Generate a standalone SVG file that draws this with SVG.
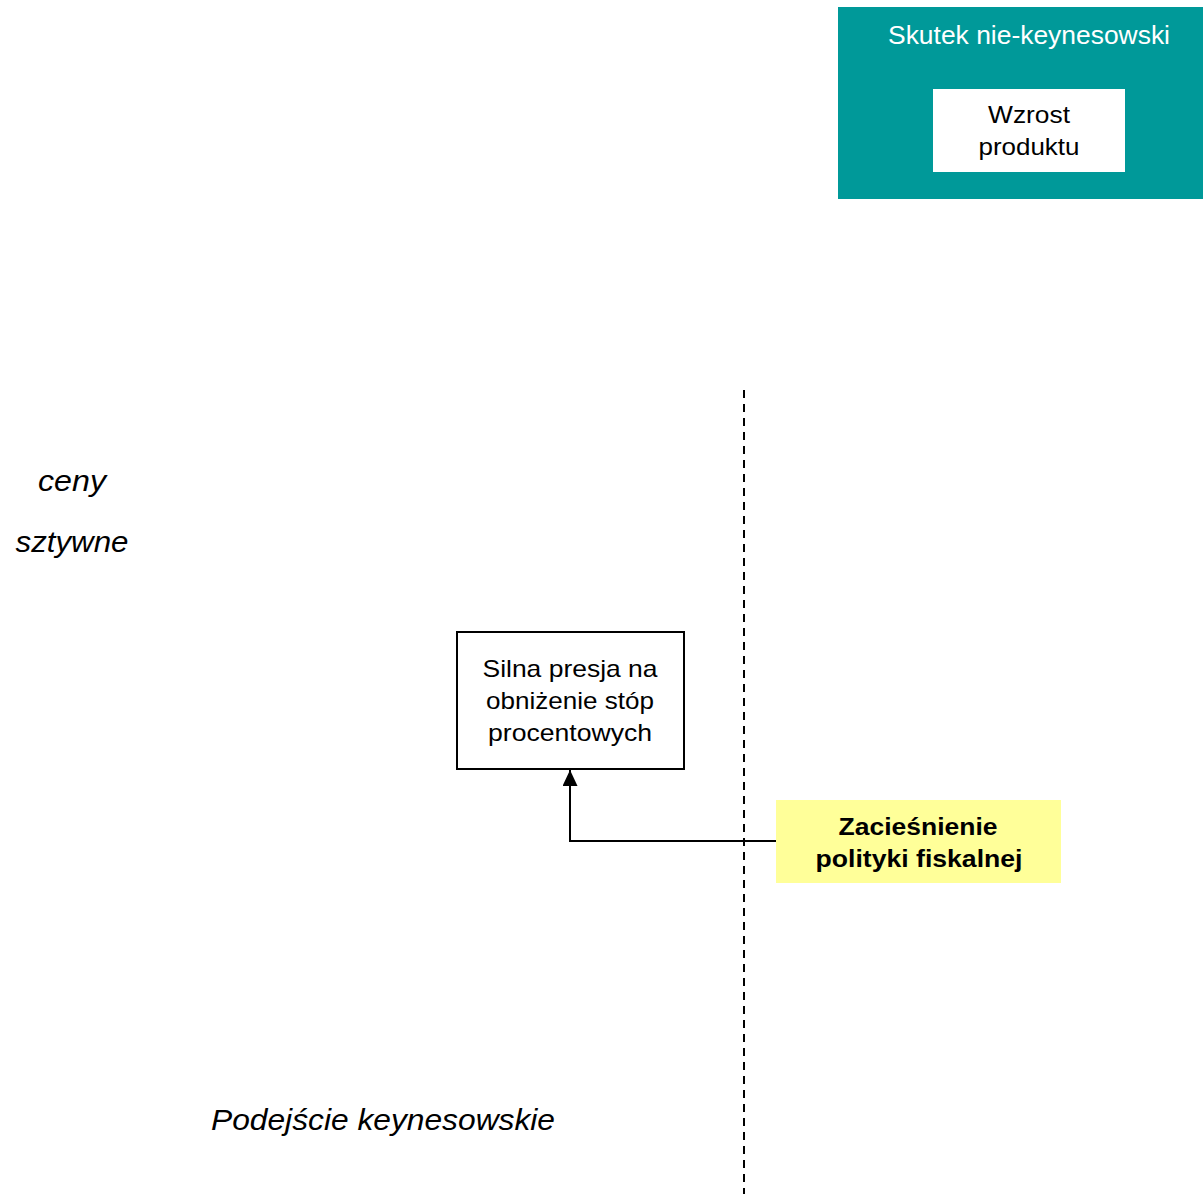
<svg xmlns="http://www.w3.org/2000/svg" width="1203" height="1194" viewBox="0 0 1203 1194">
  <style>
    text { font-family: "Liberation Sans", Arial, sans-serif; }
    .body { font-size: 24px; fill: #000; text-anchor: middle; }
    .bold { font-size: 24px; font-weight: bold; fill: #000; text-anchor: middle; }
    .label { font-size: 29px; font-style: italic; fill: #000; text-anchor: middle; }
    .conn { fill: none; stroke: #000; stroke-width: 2; }
    .divider { fill: none; stroke: #000; stroke-width: 2; stroke-dasharray: 8 6; }
  </style>
  <defs>
    <marker id="arrow" markerWidth="16" markerHeight="16" refX="16" refY="7.5" orient="auto" markerUnits="userSpaceOnUse">
      <path d="M0,0 L16,7.5 L0,15 Z" fill="#000"/>
    </marker>
  </defs>
  <rect width="1203" height="1194" fill="#fff"/>

  <!-- dashed divider -->
  <line class="divider" x1="744" y1="390" x2="744" y2="1194"/>

  <!-- free labels -->
  <text class="label" x="72" y="491" textLength="68" lengthAdjust="spacingAndGlyphs">ceny</text>
  <text class="label" x="72" y="552" textLength="113" lengthAdjust="spacingAndGlyphs">sztywne</text>
  <text class="label" x="383" y="1130" textLength="344" lengthAdjust="spacingAndGlyphs">Podejście keynesowskie</text>

  <!-- connectors -->
  <g id="connectors">
    <polyline class="conn" points="776,841 570,841 570,770" marker-end="url(#arrow)"/>
  </g>

  <g id="non-keynesian">
    <rect x="838" y="7" width="365" height="192" fill="#009999"/>
    <text x="1029" y="44" font-size="25" fill="#fff" text-anchor="middle" textLength="282" lengthAdjust="spacingAndGlyphs">Skutek nie-keynesowski</text>
  </g>
  <g id="output-growth">
    <rect x="933" y="89" width="192" height="83" fill="#fff"/>
    <text class="body" x="1029" y="123" textLength="82" lengthAdjust="spacingAndGlyphs">Wzrost</text>
    <text class="body" x="1029" y="155" textLength="101" lengthAdjust="spacingAndGlyphs">produktu</text>
  </g>

  <g id="rate-pressure">
    <rect x="457" y="632" width="227" height="137" fill="#fff" stroke="#000" stroke-width="2"/>
    <text class="body" x="570" y="677" textLength="175" lengthAdjust="spacingAndGlyphs">Silna presja na</text>
    <text class="body" x="570" y="709" textLength="168" lengthAdjust="spacingAndGlyphs">obniżenie stóp</text>
    <text class="body" x="570" y="741" textLength="164" lengthAdjust="spacingAndGlyphs">procentowych</text>
  </g>

  <g id="fiscal-tightening">
    <rect x="776" y="800" width="285" height="83" fill="#ffff99"/>
    <text class="bold" x="918" y="835" textLength="159" lengthAdjust="spacingAndGlyphs">Zacieśnienie</text>
    <text class="bold" x="919" y="867" textLength="207" lengthAdjust="spacingAndGlyphs">polityki fiskalnej</text>
  </g>
</svg>
